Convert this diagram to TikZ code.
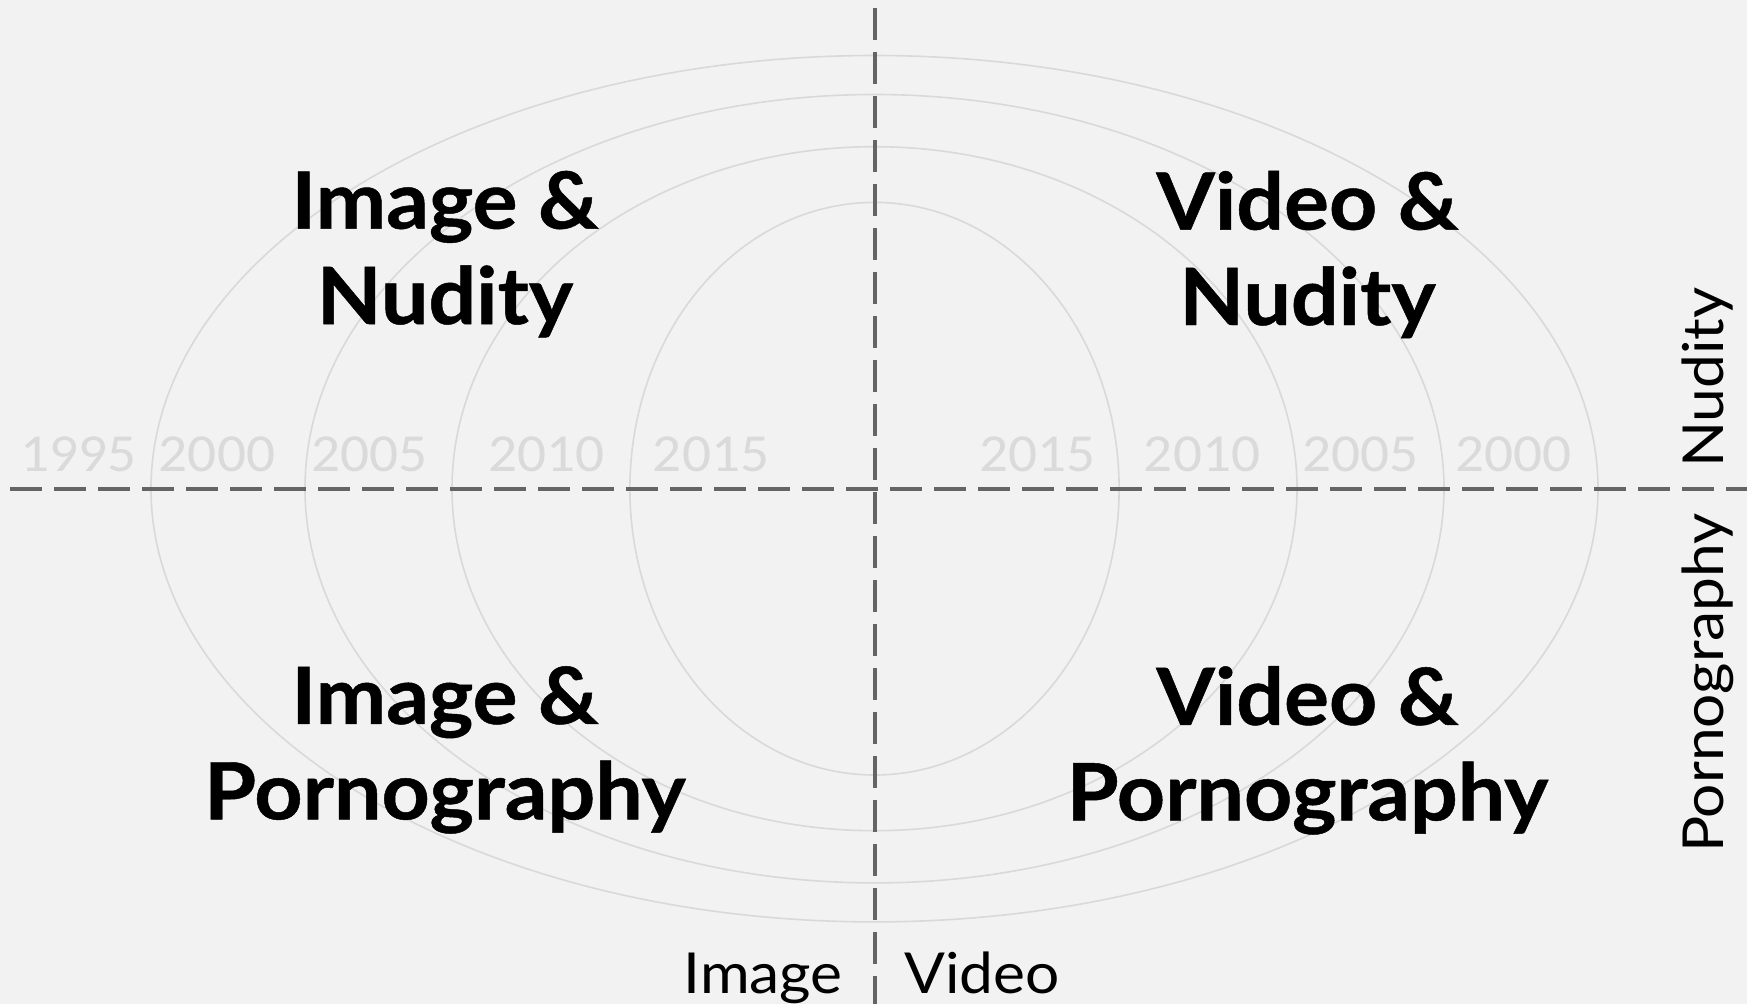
\documentclass[tikz,border=0pt]{standalone}
\usepackage{fontspec}
\setmainfont{Lato}
\newfontfamily\quadfont[FakeStretch=1.065,BoldFeatures={FakeBold=0.6}]{Lato}
\newfontfamily\sidefont[FakeStretch=1.07]{Lato}
\newfontfamily\yearfont[FakeStretch=1.07]{Carlito}
\usetikzlibrary{positioning}
\definecolor{PanelGray}{RGB}{242,242,242}
\definecolor{AxisGray}{RGB}{100,100,100}
\definecolor{RingGray}{RGB}{217,217,217}
\definecolor{YearGray}{RGB}{218,218,218}
\tikzset{
  axisline/.style={draw=AxisGray,line width=4pt,dash pattern=on 32pt off 12pt},
  ring/.style={draw=RingGray,line width=1.6pt},
  yearlabel/.style={font=\yearfont\fontsize{53.5}{60}\selectfont,text=YearGray,
    inner sep=0pt,anchor=base},
  quadlabel/.style={font=\quadfont\bfseries\fontsize{79}{95.4}\selectfont,align=center,
    inner sep=0pt,anchor=north},
  sidelabel/.style={font=\sidefont\fontsize{56.5}{60}\selectfont,inner sep=0pt}
}

\begin{document}
\begin{tikzpicture}[x=1pt,y=-1pt]
  \fill[PanelGray] (0,0) rectangle (1747,1004);
  \useasboundingbox (0,0) rectangle (1747,1004);

  \coordinate (centre) at (874.5,488.7);
  \coordinate (axtop) at (874.5,7.8);
  \coordinate (axbottom) at (874.5,1004);
  \coordinate (axleft) at (10.3,488.7);
  \coordinate (axright) at (1747,488.7);

  % rings, one per period
  \draw[ring] (centre) ellipse [x radius=723.5, y radius=433.2];
  \draw[ring] (centre) ellipse [x radius=569.5, y radius=394.2];
  \draw[ring] (centre) ellipse [x radius=422.5, y radius=342];
  \draw[ring] (centre) ellipse [x radius=244.6, y radius=286.3];

  % years
  \node[yearlabel] (l1995) at (78.6,471.7) {1995};
  \node[yearlabel] (l2000) at (217,471.7) {2000};
  \node[yearlabel] (l2005) at (369.6,471.7) {2005};
  \node[yearlabel] (l2010) at (546.6,471.7) {2010};
  \node[yearlabel] (l2015) at (711,471.7) {2015};
  \node[yearlabel] (r2015) at (1037.6,471.7) {2015};
  \node[yearlabel] (r2010) at (1202,471.7) {2010};
  \node[yearlabel] (r2005) at (1360.7,471.7) {2005};
  \node[yearlabel] (r2000) at (1513.6,471.7) {2000};

  % axes
  \draw[axisline] (axleft) -- (axright);
  \draw[axisline] (axtop) -- (axbottom);

  % quadrants
  \node[quadlabel] (imgnude) at (445,170.7) {Image \&\\Nudity};
  \node[quadlabel] (vidnude) at (1307.5,170.7) {Video \&\\Nudity};
  \node[quadlabel] (imgporn) at (445,666) {Image \&\\Pornography};
  \node[quadlabel] (vidporn) at (1307.5,666) {Video \&\\Pornography};

  % axis names
  \node[sidelabel,anchor=base east] (image) at (843,993) {Image};
  \node[sidelabel,anchor=base west] (video) at (904,993) {Video};
  \node[sidelabel,anchor=base,rotate=90] (nudity) at (1723.3,377.5) {Nudity};
  \node[sidelabel,anchor=base,rotate=90] (porn) at (1723.3,683) {Pornography};
\end{tikzpicture}
\end{document}
